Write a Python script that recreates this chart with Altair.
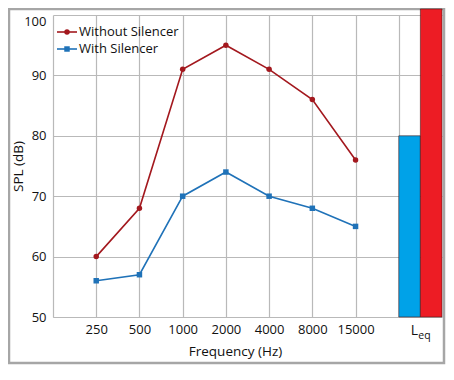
import altair as alt
import pandas as pd

freqs = ["250", "500", "1000", "2000", "4000", "8000", "15000"]
without_silencer = [60, 68, 91, 95, 91, 86, 76]
with_silencer = [56, 57, 70, 74, 70, 68, 65]
series_names = ["Without Silencer", "With Silencer"]
line_colors = ["#A3181E", "#1F72B8"]
marker_shapes = ["circle", "square"]
leq_series = ["With Silencer", "Without Silencer"]
leq_values = [80, 101]
bar_colors = ["#00A2E8", "#ED1C24"]

FONT = "Open Sans"
GRID = "#B9B9B9"

rows = []
for name, vals in zip(series_names, [without_silencer, with_silencer]):
    for i, (f, v) in enumerate(zip(freqs, vals)):
        rows.append({"series": name, "freq": f, "pos": i + 1, "spl": v})
df = pd.DataFrame(rows)

bars = pd.DataFrame({
    "series": leq_series,
    "start": [len(freqs) + 1 + 0.5 * i for i in range(len(leq_series))],
    "end": [len(freqs) + 1.5 + 0.5 * i for i in range(len(leq_series))],
    "base": [50] * len(leq_series),
    "spl": leq_values,
})

label_arr = "[" + ",".join("'%s'" % f for f in freqs) + "]"
x_scale = alt.Scale(domain=[0, len(freqs) + 2], nice=False, zero=False)
y_scale = alt.Scale(domain=[50, 100], nice=False, zero=False)

x_axis = alt.Axis(
    values=list(range(1, len(freqs) + 2)),
    labelExpr=label_arr + "[datum.value-1] || ''",
    grid=True, gridColor=GRID, gridWidth=1.2,
    domainColor=GRID, domainWidth=1.2, ticks=False,
    labelFont=FONT, labelFontSize=13, labelColor="#111", labelPadding=6,
    title="Frequency (Hz)", titleFont=FONT, titleFontSize=13.5,
    titleFontWeight="normal", titleColor="#111", titleX=182, titleY=27,
)
y_axis = alt.Axis(
    values=[50, 60, 70, 80, 90, 100],
    grid=True, gridColor=GRID, gridWidth=1.2,
    domainColor=GRID, domainWidth=1.2, ticks=False,
    labelFont=FONT, labelFontSize=13, labelColor="#111", labelPadding=7,
    labelBaseline={"condition": {"test": "datum.value >= 100", "value": "top"}, "value": "middle"},
    title="SPL (dB)", titleFont=FONT, titleFontSize=13.5,
    titleFontWeight="normal", titleColor="#111", titleX=-35, titleY=151,
    titleBaseline="middle", titleAngle=270,
)

color_scale = alt.Scale(domain=series_names, range=line_colors)
bar_color_scale = alt.Scale(domain=leq_series, range=bar_colors)
shape_scale = alt.Scale(domain=series_names, range=marker_shapes)

base = alt.Chart(df)
lines = base.mark_line(strokeWidth=1.6).encode(
    x=alt.X("pos:Q", scale=x_scale, axis=x_axis),
    y=alt.Y("spl:Q", scale=y_scale, axis=y_axis),
    color=alt.Color("series:N", scale=color_scale, legend=None),
    detail="series:N",
)
points = base.mark_point(filled=True, opacity=1, size=30).encode(
    x="pos:Q",
    y="spl:Q",
    color=alt.Color("series:N", scale=color_scale, legend=None),
    shape=alt.Shape("series:N", scale=shape_scale, legend=None),
)

bar_layer = alt.Chart(bars).mark_rect(stroke="#4a1a1a", strokeWidth=0.6).encode(
    x="start:Q", x2="end:Q", y="base:Q", y2="spl:Q",
    fill=alt.Fill("series:N", scale=bar_color_scale, legend=None),
)

leq_L = alt.Chart(pd.DataFrame({"t": ["L"]})).mark_text(
    font=FONT, fontSize=14, color="#111", baseline="middle", align="center", dx=-6
).encode(x=alt.datum(len(freqs) + 1.5), y=alt.value(316), text="t:N")
leq_eq = alt.Chart(pd.DataFrame({"t": ["eq"]})).mark_text(
    font=FONT, fontSize=10.5, color="#111", baseline="middle", align="center", dx=4
).encode(x=alt.datum(len(freqs) + 1.5), y=alt.value(321), text="t:N")

legend_layers = []
for i, (name, col, shp) in enumerate(zip(series_names, line_colors, marker_shapes)):
    ly = 17 + 17 * i
    d = pd.DataFrame({"t": [name]})
    legend_layers.append(alt.Chart(d).mark_rule(color=col, strokeWidth=1.6).encode(
        x=alt.value(4), x2=alt.value(24), y=alt.value(ly)))
    legend_layers.append(alt.Chart(d).mark_point(filled=True, opacity=1, color=col, shape=shp, size=30).encode(
        x=alt.value(14), y=alt.value(ly)))
    legend_layers.append(alt.Chart(d).mark_text(font=FONT, fontSize=13, color="#111", align="left", baseline="middle").encode(
        x=alt.value(26), y=alt.value(ly), text="t:N"))

frame = alt.Chart(pd.DataFrame({"a": [0]})).mark_rect(
    fill=None, stroke="#A6A6A6", strokeWidth=2.5
).encode(x=alt.value(-44), x2=alt.value(391), y=alt.value(-6), y2=alt.value(348))

chart = alt.layer(
    frame, bar_layer, lines, points, leq_L, leq_eq, *legend_layers
).properties(
    width=389, height=302,
    autosize=alt.AutoSizeParams(type="none"),
    padding={"left": 45, "top": 7, "right": 4, "bottom": 50},
    background="white",
).configure_view(stroke=None)

chart.save("out.html", embed_options={"renderer": "svg", "actions": False})
